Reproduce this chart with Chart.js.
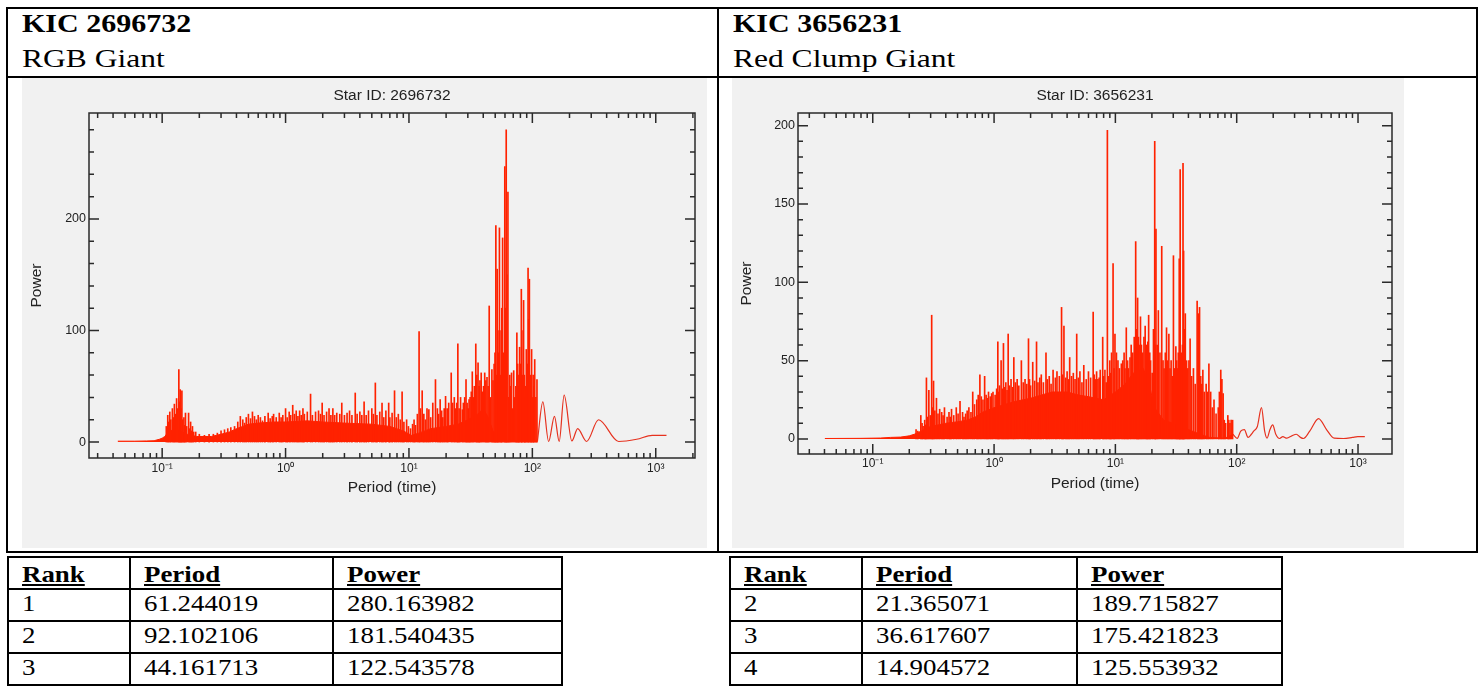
<!DOCTYPE html>
<html lang="en">
<head>
  <meta charset="UTF-8">
  <title>KIC periodograms</title>
  <script src="https://cdn.jsdelivr.net/npm/chart.js@4.4.1/dist/chart.umd.min.js"></script>
  <style>
    html, body { margin: 0; padding: 0; background: #fff; }
    body { position: relative; width: 1483px; height: 687px; overflow: hidden;
           font-family: "Liberation Serif", "Times New Roman", serif; color: #000; }
    .ln { position: absolute; background: #000; }
    .tx { position: absolute; white-space: nowrap; transform-origin: 0 0; }
    canvas { position: absolute; background: #f1f1f1; }
  </style>
</head>
<body>
  <canvas id="chartLeft" width="685" height="470" style="left:22px; top:78px"></canvas>
  <canvas id="chartRight" width="672" height="470" style="left:732px; top:78px"></canvas>

  <script>
    // ---- star info / tables ----
    const leftStar = "2696732", leftType = "RGB Giant";
    const rightStar = "3656231", rightType = "Red Clump Giant";
    const tableHead = ["Rank", "Period", "Power"];
    const leftRank = ["1", "2", "3"];
    const leftPeriod = ["61.244019", "92.102106", "44.161713"];
    const leftPower = ["280.163982", "181.540435", "122.543578"];
    const rightRank = ["2", "3", "4"];
    const rightPeriod = ["21.365071", "36.617607", "14.904572"];
    const rightPower = ["189.715827", "175.421823", "125.553932"];

    // ---- axis ticks ----
    const xTicks = [0.1, 1, 10, 100, 1000];
    const leftYTicks = [0, 100, 200];
    const rightYTicks = [0, 50, 100, 150, 200];

    // ---- KIC 2696732 periodogram ----
    // individual peaks
    const lPeakP = [0.108, 0.111, 0.1125, 0.1153, 0.1175, 0.121, 0.1235, 0.1256, 0.128, 0.1309, 0.1335, 0.1365, 0.1382, 0.140,
      0.142, 0.1445, 0.147, 0.150, 0.1525, 0.1545, 0.158, 0.1637, 0.167, 0.170, 0.173, 0.176, 0.180, 0.187,
      0.2, 0.22, 0.24, 0.26, 0.28, 0.3, 0.32, 0.34, 0.36, 0.386,
      0.41, 0.43, 0.45, 0.465, 0.48, 0.5, 0.52, 0.539, 0.56, 0.58, 0.6, 0.625, 0.65, 0.68, 0.723, 0.75, 0.78, 0.8, 0.84,
      0.889, 0.92, 0.95, 1.0, 1.03, 1.07, 1.1, 1.143, 1.18, 1.22, 1.26, 1.3, 1.34, 1.383, 1.42, 1.5, 1.594, 1.65, 1.75,
      1.85, 1.92, 1.98, 2.05, 2.15, 2.25, 2.33, 2.417, 2.5, 2.6, 2.75, 2.855, 3.0, 3.15, 3.3, 3.45, 3.67, 3.8, 4.0, 4.15,
      4.33, 4.5, 4.7, 5.0, 5.15, 5.34, 5.5, 5.8, 6.05, 6.25, 6.5, 6.85, 7.0, 7.3, 7.64, 7.9, 8.2, 8.5, 8.8, 9.1, 9.57, 9.9,
      10.3, 10.7, 11.0, 11.3, 11.7, 12.08, 12.4, 12.8, 13.2, 13.6, 14.0, 14.5, 15.0, 15.6, 16.4, 17.0, 17.4, 17.9, 18.4,
      18.8, 19.3, 19.8, 20.4, 21.0, 22.0, 22.6, 23.3, 23.8, 24.4, 24.9, 25.5, 26.2, 27.1, 27.6, 28.3, 29.0, 29.6, 30.2,
      30.7, 31.3, 32.0, 32.6, 33.2, 33.9, 34.8, 35.5, 36.3, 37.0, 37.6, 38.5, 39.3, 40.2, 41.1, 42.0, 42.9, 43.8, 44.7,
      45.8, 47.0, 48.0, 49.0, 49.8, 50.6, 51.3, 51.9, 52.6, 53.3, 54.1, 55.0, 55.8, 56.5, 57.4, 58.6, 59.8, 60.6, 61.4,
      62.3, 63.4, 64.5, 65.6, 66.6, 67.8, 69.2, 70.6, 72.0, 73.5, 74.9, 76.0, 76.8, 77.8, 78.8, 80.0, 81.4, 82.2, 83.0,
      84.9, 86.0, 87.0, 88.0, 89.3, 90.8, 92.3, 93.5, 94.6, 96.5, 97.5, 98.6, 100.0, 101.5, 103.0, 104.5, 106.8, 109.0];
    const lPeakY = [14, 24, 18, 27, 20, 30, 22, 34, 25, 39, 30, 65, 36, 47,
      30, 46, 20, 22, 15, 26, 14, 26, 12, 18, 10, 14, 9, 9,
      7, 6, 7, 7, 8, 10, 11, 12, 13, 14,
      18, 23, 20, 17, 22, 25, 21, 27, 23, 20, 24, 22, 19, 23, 26, 21, 23, 25, 22,
      26, 22, 24, 30, 22, 27, 24, 33, 25, 28, 23, 28, 24, 30, 25, 27, 43, 24, 27,
      28, 25, 35, 24, 27, 30, 24, 30, 24, 26, 25, 35, 24, 26, 28, 24, 44, 25, 27, 24,
      36, 24, 28, 30, 25, 53, 24, 27, 35, 22, 28, 35, 22, 26, 46, 22, 25, 20, 45, 18, 20, 14,
      12, 16, 20, 15, 25, 99, 30, 46, 25, 20, 30, 29, 22, 35, 56, 30, 25, 38, 28,
      22, 30, 41, 30, 35, 62, 35, 40, 30, 35, 88, 30, 40, 29, 35, 40, 56, 35, 30,
      38, 40, 45, 63, 40, 50, 88, 60, 71, 50, 55, 62, 45, 50, 62, 55, 58, 50, 122,
      40, 65, 55, 70, 80, 194, 60, 155, 100, 80, 192, 60, 100, 120, 183, 80, 247, 120, 280,
      150, 224, 40, 60, 50, 62, 30, 64, 40, 50, 98, 70, 50, 60, 85, 70, 137, 100, 60,
      127, 60, 40, 50, 83, 70, 156, 110, 146, 60, 50, 83, 40, 60, 50, 74, 40, 56];
    // solid noise floor under the peaks
    const lFloorP = [0.0437, 0.06, 0.075, 0.086, 0.095, 0.1, 0.105, 0.11, 0.125, 0.14, 0.16, 0.19, 0.25, 0.3, 0.35, 0.4,
      0.45, 0.5, 0.6, 0.8, 1, 1.5, 2, 3, 5, 7, 9, 10.5, 12, 15, 20, 25, 30, 36, 40, 44, 48, 55, 62, 80, 110];
    const lFloorY = [0.8, 0.8, 1, 1.2, 2.5, 3.5, 5, 8, 12, 10, 7, 5, 5, 7, 9, 12,
      14, 16, 17, 18, 18, 19, 18, 17, 16, 14, 10, 6, 8, 12, 14, 16, 20, 25, 30, 22, 10, 4, 1, 0.5, 1];
    // smooth long-period tail
    const lTailP = [110, 121.6, 135.5, 151, 165, 181, 209, 233, 275, 344, 501, 700, 936, 1222];
    const lTailY = [1, 36, 0.5, 23, 0.5, 42, 1, 12, 0.5, 20, 0.5, 2.5, 6, 6];

    // ---- KIC 3656231 periodogram ----
    const rPeakP = [0.2275, 0.235, 0.249, 0.255, 0.26, 0.268, 0.272, 0.277, 0.283, 0.290, 0.298, 0.306, 0.311, 0.317, 0.325,
      0.335, 0.345, 0.356, 0.37, 0.38, 0.39, 0.41, 0.425, 0.435, 0.446, 0.465, 0.488, 0.505, 0.524, 0.55, 0.565, 0.583,
      0.6, 0.62, 0.645, 0.667, 0.69, 0.72, 0.74, 0.764, 0.785, 0.81, 0.836, 0.86, 0.88, 0.9, 0.93, 0.955, 0.98, 1.02,
      1.05, 1.074, 1.09, 1.11, 1.143, 1.17, 1.195, 1.22, 1.25, 1.28, 1.307, 1.34, 1.38, 1.42, 1.455, 1.5, 1.55, 1.6,
      1.679, 1.74, 1.8, 1.86, 1.922, 1.96, 2.0, 2.083, 2.16, 2.239, 2.3, 2.38, 2.45, 2.55, 2.679, 2.75, 2.85, 2.95,
      3.065, 3.2, 3.3, 3.45, 3.6, 3.68, 3.767, 3.9, 4.0, 4.1, 4.2, 4.35, 4.5, 4.65, 4.8, 4.95, 5.1, 5.3, 5.49, 5.75,
      6.0, 6.25, 6.56, 6.7, 6.85, 7.0, 7.18, 7.35, 7.5, 7.86, 8.0, 8.2, 8.4, 8.59, 8.8, 8.99, 9.15, 9.3, 9.57, 9.75,
      9.92, 10.2, 10.5, 10.8, 11.2, 11.5, 11.8, 12.0, 12.3, 12.6, 12.8, 13.2, 13.5, 13.9, 14.3, 14.7, 15.0, 15.25,
      15.5, 15.7, 16.1, 16.4, 16.8, 17.2, 17.6, 18.0, 18.2, 18.5, 18.8, 19.2, 19.5, 20.1, 20.6, 21.1, 21.35, 21.6,
      22.1, 22.6, 23.3, 24.1, 24.7, 25.2, 25.8, 26.4, 27.0, 27.6, 28.2, 28.8, 29.4, 30.1, 30.8, 31.5, 32.0, 32.5,
      33.0, 33.6, 33.9, 34.2, 34.7, 35.2, 35.7, 36.1, 36.5, 36.9, 37.7, 38.6, 39.5, 40.4, 41.3, 42.5, 44, 45.5, 47.2,
      48.3, 49.4, 50.5, 51.5, 52.6, 54, 56, 57.5, 59, 61, 63, 65, 67.6, 70.5, 72, 73.9, 75.5, 77.3, 79, 81, 84.5, 86,
      88, 90, 92.5];
    const rPeakY = [6, 5, 15, 10, 8, 12, 9, 39, 14, 31, 15, 79, 20, 37, 18,
      26, 16, 19, 17, 15, 20, 14, 17, 14, 19, 15, 20, 16, 24, 17, 14, 16,
      18, 20, 17, 30, 22, 25, 28, 41, 27, 25, 40, 28, 26, 30, 27, 29, 30, 28,
      32, 62, 30, 34, 50, 32, 61, 33, 36, 31, 67, 34, 38, 33, 52, 36, 38, 34,
      50, 36, 38, 35, 64, 38, 34, 49, 37, 62, 36, 39, 41, 36, 55, 38, 40, 35,
      44, 39, 43, 40, 84, 41, 72, 39, 43, 38, 52, 40, 42, 38, 67, 39, 43, 36, 47, 38,
      43, 39, 81, 41, 38, 43, 38, 39, 44, 65, 40, 44, 36, 197, 40, 50, 42, 55, 112, 45,
      67, 55, 50, 45, 48, 50, 55, 45, 71, 50, 45, 52, 60, 55, 65, 126, 70, 90,
      65, 60, 78, 60, 55, 65, 72, 60, 50, 62, 79, 55, 50, 42, 70, 190, 60, 134,
      60, 82, 55, 123, 50, 45, 55, 71, 50, 67, 45, 50, 40, 117, 45, 59, 50, 45,
      55, 115, 60, 172, 50, 55, 60, 176, 120, 70, 80, 50, 45, 50, 64, 40, 45, 35, 88,
      80, 84, 40, 35, 44, 30, 35, 30, 48, 30, 20, 25, 16, 20, 30, 44, 38, 29, 12, 10, 15, 12,
      10, 12, 12];
    const rFloorP = [0.0403, 0.08, 0.116, 0.14, 0.17, 0.2, 0.22, 0.25, 0.3, 0.4, 0.5, 0.6, 0.7, 0.8, 1, 1.5, 2, 3, 4,
      5, 6, 8, 10, 12, 14, 17, 19, 21, 25, 30, 40, 50, 60, 80, 93];
    const rFloorY = [0.3, 0.4, 0.6, 1, 1.2, 2, 3, 5, 8, 10, 11, 12, 14, 17, 20, 24, 26, 30, 30,
      28, 27, 25, 30, 35, 42, 45, 35, 20, 12, 10, 6, 3, 1, 0.5, 3];
    const rTailP = [93, 101, 108, 115.6, 124, 132, 138, 148, 160, 170, 178, 188, 198, 210, 226, 240, 259, 285, 310, 335,
      355, 400, 473, 550, 636, 760, 900, 995, 1138];
    const rTailY = [3, 0.4, 5, 6, 1, 3, 5, 8, 20, 5, 0.5, 6, 9, 3, 0.3, 1.5, 0.5, 2, 3, 1,
      0.3, 5, 13, 6, 0.5, 0.3, 1, 1.5, 1.5];

    const RED = "#ff2200";
    const INK = "#222";
    const SANS = "'Liberation Sans', Arial, sans-serif";
    const SUP = { "-1": "\u207B\u00B9", "0": "\u2070", "1": "\u00B9", "2": "\u00B2", "3": "\u00B3" };

    // ---- page furniture ----
    function addLine(x, y, w, h) {
      const d = document.createElement("div");
      d.className = "ln";
      d.style.cssText = `left:${x}px;top:${y}px;width:${w}px;height:${h}px`;
      document.body.appendChild(d);
    }
    function addText(str, x, baseline, size, bold, under, stretch) {
      const s = document.createElement("span");
      s.className = "tx";
      s.textContent = str;
      s.style.left = x + "px";
      s.style.top = (baseline - 0.8375 * size) + "px";
      s.style.fontSize = size + "px";
      s.style.lineHeight = size + "px";
      s.style.fontWeight = bold ? "bold" : "normal";
      if (under) s.style.textDecoration = "underline";
      s.style.transform = `scaleX(${stretch})`;
      document.body.appendChild(s);
    }

    // outer two-cell frame
    addLine(6, 7, 1472, 2);
    addLine(6, 76, 1472, 2);
    addLine(6, 551, 1472, 2);
    addLine(6, 7, 2, 546);
    addLine(717, 7, 2, 546);
    addLine(1476, 7, 2, 546);

    addText("KIC " + leftStar, 22, 31.7, 25, true, false, 1.2);
    addText(leftType, 22, 66.7, 25, false, false, 1.26);
    addText("KIC " + rightStar, 733, 31.7, 25, true, false, 1.2);
    addText(rightType, 733, 66.7, 25, false, false, 1.26);

    function drawTable(cols, rows, ranks, periods, powers) {
      const last = cols[cols.length - 1];
      rows.forEach(y => addLine(cols[0], y, last - cols[0] + 2, 2));
      cols.forEach(x => addLine(x, rows[0], 2, rows[rows.length - 1] - rows[0] + 2));
      const tx = cols.slice(0, 3).map(x => x + 15);
      tableHead.forEach((h, i) => addText(h, tx[i], 582.3, 24, true, true, 1.12));
      [ranks, periods, powers].forEach((col, i) =>
        col.forEach((v, r) => addText(v, tx[i], 611.5 + 31.8 * r, 24, false, false, 1.12)));
    }
    drawTable([7, 129, 332, 561], [556, 588, 620, 652, 684], leftRank, leftPeriod, leftPower);
    drawTable([729, 861, 1076, 1281], [556, 588, 620, 652, 684], rightRank, rightPeriod, rightPower);

    // ---- charts ----
    const pts = (xs, ys) => xs.map((x, i) => ({ x: x, y: ys[i] }));

    // boxed frame with inward ticks on all four sides
    const framePlugin = {
      id: "frame",
      afterDatasetsDraw(chart, args, opts) {
        const { ctx, chartArea: a, scales: { x, y } } = chart;
        ctx.save();
        ctx.strokeStyle = "#2a2a2a";
        ctx.lineWidth = 1.5;
        ctx.strokeRect(a.left, a.top, a.right - a.left, a.bottom - a.top);
        ctx.beginPath();
        for (let e = -2; e <= 3; e++) {
          for (let m = 1; m <= 9; m++) {
            const v = m * Math.pow(10, e);
            if (v < x.min || v > x.max) continue;
            const px = x.getPixelForValue(v);
            const len = m === 1 ? 10 : 5;
            ctx.moveTo(px, a.bottom); ctx.lineTo(px, a.bottom - len);
            ctx.moveTo(px, a.top); ctx.lineTo(px, a.top + len);
          }
        }
        const start = Math.ceil(y.min / opts.yMinor) * opts.yMinor;
        for (let v = start; v <= y.max; v += opts.yMinor) {
          const py = y.getPixelForValue(v);
          const len = v % opts.yMajor === 0 ? 10 : 5;
          ctx.moveTo(a.left, py); ctx.lineTo(a.left + len, py);
          ctx.moveTo(a.right, py); ctx.lineTo(a.right - len, py);
        }
        ctx.stroke();
        ctx.restore();
      }
    };

    function makeChart(id, d, c) {
      return new Chart(document.getElementById(id), {
        type: "line",
        data: {
          datasets: [
            { type: "bar", data: pts(d.peakP, d.peakY), backgroundColor: RED, borderWidth: 0,
              barThickness: 1, grouped: false },
            { data: pts(d.floorP, d.floorY), borderColor: RED, borderWidth: 1, backgroundColor: RED,
              pointRadius: 0, tension: 0, fill: "origin" },
            { data: pts(d.tailP, d.tailY), borderColor: "#e6321f", borderWidth: 1.2, pointRadius: 0,
              cubicInterpolationMode: "monotone", fill: false }
          ]
        },
        options: {
          responsive: false,
          animation: false,
          devicePixelRatio: 1,
          events: [],
          layout: { padding: { left: 0, right: c.padRight, top: 0, bottom: 0 } },
          plugins: {
            legend: { display: false },
            tooltip: { enabled: false },
            title: {
              display: true, text: "Star ID: " + c.star, fullSize: false, color: INK,
              font: { family: SANS, size: 15.5, weight: "normal" }, padding: { top: 8, bottom: 8.4 }
            },
            frame: { yMinor: c.yMinor, yMajor: c.yMajor }
          },
          scales: {
            x: {
              type: "logarithmic", min: c.xMin, max: c.xMax, bounds: "data", offset: false,
              grid: { display: false, drawTicks: false }, border: { display: false },
              afterBuildTicks: s => { s.ticks = xTicks.map(v => ({ value: v })); },
              afterFit: s => { s.height = c.xAxisH; },
              ticks: {
                autoSkip: false, maxRotation: 0, padding: c.xTickPad, color: INK,
                font: { family: SANS, size: 12 },
                callback: v => "10" + SUP[String(Math.round(Math.log10(v)))]
              },
              title: {
                display: true, text: "Period (time)", color: INK,
                font: { family: SANS, size: 15.5 }, padding: { top: 0, bottom: c.xTitleBottom }
              }
            },
            y: {
              type: "linear", min: c.yMin, max: c.yMax, bounds: "data",
              grid: { display: false, drawTicks: false }, border: { display: false },
              afterBuildTicks: s => { s.ticks = c.yTicks.map(v => ({ value: v })); },
              afterFit: s => { s.width = c.yAxisW; },
              ticks: { padding: 3, color: INK, font: { family: SANS, size: 12.5 } },
              title: {
                display: true, text: "Power", color: INK,
                font: { family: SANS, size: 15.5 }, padding: { top: 5, bottom: 0 }
              }
            }
          }
        },
        plugins: [framePlugin]
      });
    }

    makeChart("chartLeft",
      { peakP: lPeakP, peakY: lPeakY, floorP: lFloorP, floorY: lFloorY, tailP: lTailP, tailY: lTailY },
      { star: leftStar, xMin: 0.02553, xMax: 2080, yMin: -14.3, yMax: 295, yTicks: leftYTicks, yMinor: 20, yMajor: 100,
        xAxisH: 90, xTickPad: 3, xTitleBottom: 51, yAxisW: 67, padRight: 12 });

    makeChart("chartRight",
      { peakP: rPeakP, peakY: rPeakY, floorP: rFloorP, floorY: rFloorY, tailP: rTailP, tailY: rTailY },
      { star: rightStar, xMin: 0.0242, xMax: 1906, yMin: -9.6, yMax: 208.1, yTicks: rightYTicks, yMinor: 10, yMajor: 50,
        xAxisH: 94, xTickPad: 2, xTitleBottom: 55, yAxisW: 66, padRight: 12 });
  </script>
</body>
</html>
